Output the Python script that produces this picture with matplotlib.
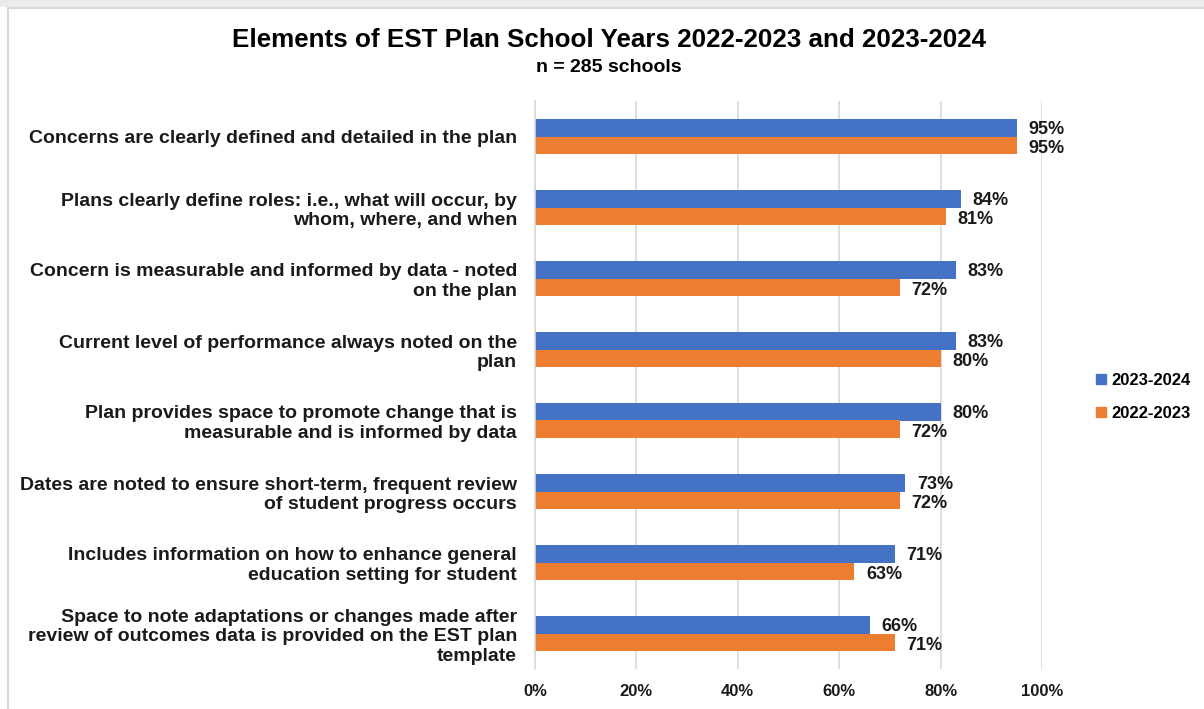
import numpy as np
import matplotlib.pyplot as plt
from matplotlib.lines import Line2D

plt.rcParams['font.family'] = ['Liberation Sans', 'DejaVu Sans']

categories = [
    'Concerns are clearly defined and detailed in the plan',
    'Plans clearly define roles: i.e., what will occur, by\nwhom, where, and when',
    'Concern is measurable and informed by data - noted\non the plan',
    'Current level of performance always noted on the\nplan',
    'Plan provides space to promote change that is\nmeasurable and is informed by data',
    'Dates are noted to ensure short-term, frequent review\nof student progress occurs',
    'Includes information on how to enhance general\neducation setting for student',
    'Space to note adaptations or changes made after\nreview of outcomes data is provided on the EST plan\ntemplate',
]
y2024 = [95, 84, 83, 83, 80, 73, 71, 66]
y2023 = [95, 81, 72, 80, 72, 72, 63, 71]

blue = '#4472C4'
orange = '#ED7D31'

fig = plt.figure(figsize=(12.04, 7.09), dpi=100)
ax = fig.add_axes([535 / 1204, 1 - 669 / 709, 507 / 1204, 568 / 709])

y = np.arange(len(categories))
h = 0.245
ax.barh(y - h / 2, y2024, height=h, color=blue, label='2023-2024')
ax.barh(y + h / 2, y2023, height=h, color=orange, label='2022-2023')

for yi, v in zip(y, y2024):
    ax.text(v + 2.3, yi - h / 2 + 0.02, f'{v}%', va='center', ha='left',
            fontsize=13, fontweight='bold', color='#1a1a1a')
for yi, v in zip(y, y2023):
    ax.text(v + 2.3, yi + h / 2 + 0.05, f'{v}%', va='center', ha='left',
            fontsize=13, fontweight='bold', color='#1a1a1a')

ax.set_xlim(0, 100)
ax.set_ylim(len(categories) - 0.5, -0.5)
ax.set_xticks(np.arange(0, 101, 20))
ax.set_xticklabels([f'{t}%' for t in range(0, 101, 20)],
                   fontsize=12, fontweight='bold', color='#1a1a1a')
ax.set_yticks(y)
ax.set_yticklabels(categories, fontsize=14, fontweight='bold',
                   color='#1a1a1a', linespacing=1.22)
ax.tick_params(axis='both', length=0)
ax.tick_params(axis='x', pad=11)
ax.tick_params(axis='y', pad=13)
ax.grid(axis='x', color='#d9d9d9', linewidth=1.2)
ax.set_axisbelow(True)
for s in ['top', 'right', 'bottom']:
    ax.spines[s].set_visible(False)
ax.spines['left'].set_color('#d9d9d9')
ax.spines['left'].set_linewidth(1.2)

fig.text(0.506, 1 - 40 / 709, 'Elements of EST Plan School Years 2022-2023 and 2023-2024',
         ha='center', va='center', fontsize=18.7, fontweight='bold')
fig.text(0.506, 1 - 67 / 709, 'n = 285 schools',
         ha='center', va='center', fontsize=14, fontweight='bold')

handles = [Line2D([], [], marker='s', linestyle='', markersize=7, color=blue),
           Line2D([], [], marker='s', linestyle='', markersize=7, color=orange)]
fig.legend(handles, ['2023-2024', '2022-2023'], loc='center left',
           bbox_to_anchor=(1078 / 1204, 1 - 397 / 709), frameon=False,
           prop={'weight': 'bold', 'size': 12},
           handletextpad=0.1, labelspacing=1.1, handlelength=1.0)

# outer chart frame
fig.add_artist(Line2D([8 / 1204, 8 / 1204], [0, 1 - 8 / 709],
                      transform=fig.transFigure, color='#d9d9d9', linewidth=1.5))
fig.add_artist(Line2D([8 / 1204, 1], [1 - 8 / 709, 1 - 8 / 709],
                      transform=fig.transFigure, color='#d9d9d9', linewidth=1.5))
fig.add_artist(plt.Rectangle((0, 1 - 7 / 709), 1, 7 / 709, transform=fig.transFigure,
                             color='#ebebeb', linewidth=0))

fig.savefig('out.png', dpi=100)
